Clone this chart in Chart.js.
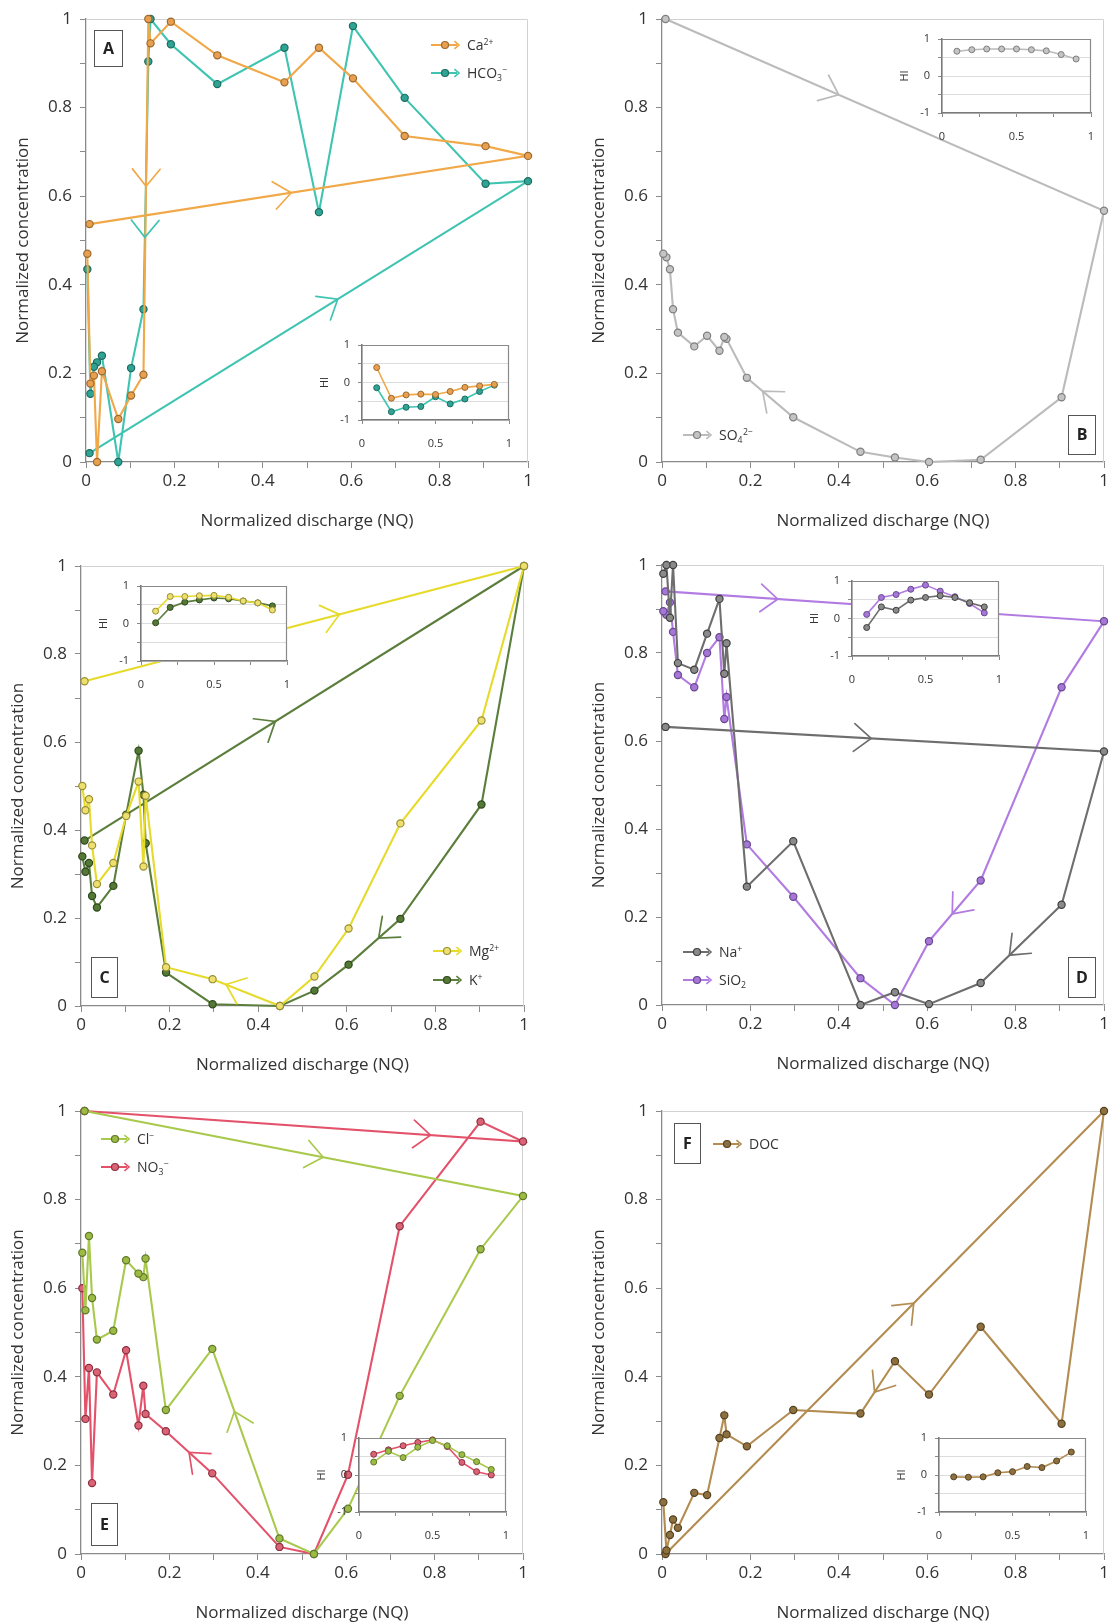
<!DOCTYPE html>
<html><head><meta charset="utf-8">
<script src="https://cdn.jsdelivr.net/npm/chart.js@4.4.1/dist/chart.umd.min.js"></script>
<style>
html,body{margin:0;padding:0;background:#fff;}
body{width:1114px;height:1623px;position:relative;overflow:hidden;}
canvas{position:absolute;}
</style></head>
<body>
<script>
// ---------- DATA ----------
// normalized discharge along the event: start point, peak, then falling limb
const NQ = [0.008, 1.0, 0.904, 0.721, 0.604, 0.527, 0.449, 0.297, 0.192, 0.146, 0.141, 0.13, 0.102, 0.073, 0.036, 0.025, 0.018, 0.01, 0.003];
const CA   = [0.537, 0.691, 0.713, 0.736, 0.866, 0.935, 0.857, 0.918, 0.994, 0.945, 1.0, 0.197, 0.150, 0.097, 0.205, 0.0, 0.195, 0.177, 0.470];
const HCO3 = [0.020, 0.634, 0.628, 0.822, 0.984, 0.564, 0.935, 0.853, 0.943, 1.0, 0.904, 0.345, 0.212, 0.0, 0.240, 0.225, 0.215, 0.154, 0.435];
const SO4  = [1.0, 0.567, 0.146, 0.005, 0.0, 0.010, 0.023, 0.101, 0.190, 0.278, 0.282, 0.251, 0.285, 0.261, 0.292, 0.345, 0.435, 0.462, 0.470];
const MG   = [0.738, 1.0, 0.649, 0.415, 0.176, 0.067, 0.0, 0.061, 0.088, 0.478, 0.317, 0.510, 0.432, 0.325, 0.277, 0.365, 0.470, 0.445, 0.500];
const K    = [0.376, 1.0, 0.458, 0.198, 0.094, 0.035, 0.0, 0.004, 0.076, 0.370, 0.480, 0.580, 0.435, 0.273, 0.224, 0.250, 0.325, 0.305, 0.340];
const NA   = [0.632, 0.576, 0.228, 0.050, 0.002, 0.029, 0.0, 0.372, 0.269, 0.822, 0.753, 0.923, 0.844, 0.762, 0.777, 1.0, 0.880, 1.0, 0.980];
const SIO2 = [0.940, 0.872, 0.722, 0.283, 0.145, 0.0, 0.061, 0.246, 0.365, 0.700, 0.650, 0.836, 0.800, 0.722, 0.750, 0.848, 0.915, 0.887, 0.895];
const CL   = [1.0, 0.808, 0.688, 0.357, 0.102, 0.0, 0.035, 0.463, 0.325, 0.667, 0.625, 0.633, 0.663, 0.504, 0.484, 0.578, 0.718, 0.550, 0.680];
const NO3  = [1.0, 0.931, 0.976, 0.740, 0.179, 0.0, 0.016, 0.182, 0.277, 0.316, 0.380, 0.290, 0.460, 0.360, 0.410, 0.160, 0.420, 0.305, 0.600];
const DOC  = [0.0, 1.0, 0.294, 0.513, 0.360, 0.435, 0.317, 0.325, 0.243, 0.270, 0.313, 0.262, 0.133, 0.138, 0.059, 0.078, 0.043, 0.008, 0.117];

// hysteresis index (inset charts)
const HI_X    = [0.1, 0.2, 0.3, 0.4, 0.5, 0.6, 0.7, 0.8, 0.9];
const CA_HI   = [0.40, -0.42, -0.33, -0.31, -0.32, -0.24, -0.13, -0.09, -0.05];
const HCO3_HI = [-0.14, -0.78, -0.66, -0.64, -0.38, -0.57, -0.44, -0.24, -0.07];
const SO4_HI  = [0.67, 0.71, 0.73, 0.73, 0.73, 0.71, 0.68, 0.58, 0.46];
const MG_HI   = [0.33, 0.72, 0.72, 0.74, 0.75, 0.70, 0.60, 0.55, 0.36];
const K_HI    = [0.02, 0.43, 0.57, 0.63, 0.68, 0.66, 0.60, 0.55, 0.47];
const NA_HI   = [-0.24, 0.31, 0.22, 0.49, 0.56, 0.61, 0.56, 0.42, 0.31];
const SIO2_HI = [0.11, 0.56, 0.64, 0.78, 0.89, 0.73, 0.58, 0.40, 0.15];
const CL_HI   = [0.35, 0.64, 0.47, 0.75, 0.93, 0.79, 0.55, 0.36, 0.15];
const NO3_HI  = [0.56, 0.68, 0.79, 0.88, 0.95, 0.77, 0.34, 0.09, 0.0];
const DOC_HI  = [-0.05, -0.06, -0.05, 0.06, 0.09, 0.23, 0.20, 0.38, 0.62];

const X_TITLE = 'Normalized discharge (NQ)';
const Y_TITLE = 'Normalized concentration';
const HI_TITLE = 'HI';

// ---------- STYLES ----------
const FONT = "'Open Sans', 'DejaVu Sans', sans-serif";
const TXT = '#333333';
const AXIS = '#8a8a8a';
const STY = {
  ca:   {line:'#F0A848', fill:'#E8A050', edge:'#9C6A2E'},
  hco3: {line:'#3FC4B2', fill:'#2FA494', edge:'#1E6B60'},
  so4:  {line:'#BBBBBB', fill:'#C4C4C4', edge:'#7E7E7E'},
  mg:   {line:'#E6DA2A', fill:'#EDE070', edge:'#9A9032'},
  k:    {line:'#5C7E3C', fill:'#557836', edge:'#2E4A1C'},
  na:   {line:'#6E6E6E', fill:'#8A8A8A', edge:'#404040'},
  sio2: {line:'#B27BE2', fill:'#A677D6', edge:'#674890'},
  cl:   {line:'#A9C94C', fill:'#9DBA44', edge:'#5E7A2A'},
  no3:  {line:'#E3526A', fill:'#DA6476', edge:'#8C3040'},
  doc:  {line:'#B38C52', fill:'#8C7040', edge:'#57421F'}
};

// ---------- LAYOUT ----------
const PANELS = [
  { letter:'A', cv:[0,0,557,540], area:[86,19,528,462],
    series:[
      {name:[['Ca',''],['2+','sup']], y:CA, hi:CA_HI, st:'ca', arrows:[[0,0.46],[10,0.47]]},
      {name:[['HCO',''],['3','sub'],['\u2212','sup']], y:HCO3, hi:HCO3_HI, st:'hco3', arrows:[[0,0.566],[10,0.71]]}],
    legend:[431,45,28], box:[94,30,28,36], inset:[362,345,509,420] },
  { letter:'B', cv:[557,0,557,540], area:[105,19,547,462],
    series:[
      {name:[['SO',''],['4','sub'],['2\u2212','sup']], y:SO4, hi:SO4_HI, st:'so4', arrows:[[0,0.395],[7,0.66]]}],
    legend:[683,435,28], box:[1068,415,27,39], inset:[942,39,1091,113] },
  { letter:'C', cv:[0,540,557,540], area:[81,26,524,466],
    series:[
      {name:[['Mg',''],['2+','sup']], y:MG, hi:MG_HI, st:'mg', arrows:[[0,0.58],[6,0.8]]},
      {name:[['K',''],['+','sup']], y:K, hi:K_HI, st:'k', arrows:[[0,0.434],[3,0.42]]}],
    legend:[433,951,29], box:[91,957,26,40], inset:[141,586,287,661] },
  { letter:'D', cv:[557,540,557,540], area:[105,25,547,465],
    series:[
      {name:[['Na',''],['+','sup']], y:NA, hi:NA_HI, st:'na', arrows:[[0,0.469],[2,0.645]]},
      {name:[['SiO',''],['2','sub']], y:SIO2, hi:SIO2_HI, st:'sio2', arrows:[[0,0.256],[3,0.55]]}],
    legend:[683,952,28], box:[1068,957,27,40], inset:[852,581,999,656] },
  { letter:'E', cv:[0,1080,557,543], area:[81,31,523,474],
    series:[
      {name:[['Cl',''],['\u2212','sup']], y:CL, hi:CL_HI, st:'cl', arrows:[[0,0.544],[6,0.67]]},
      {name:[['NO',''],['3','sub'],['\u2212','sup']], y:NO3, hi:NO3_HI, st:'no3', arrows:[[0,0.789],[7,0.5]]}],
    legend:[101,1139,28], box:[91,1503,26,42], inset:[359,1438,506,1512] },
  { letter:'F', cv:[557,1080,557,543], area:[105,31,547,474],
    series:[
      {name:[['DOC','']], y:DOC, hi:DOC_HI, st:'doc', arrows:[[0,0.566],[5,0.59]]}],
    legend:[713,1144,28], box:[674,1123,26,40], inset:[939,1438,1086,1512] }
];

Chart.defaults.font.family = FONT;
Chart.defaults.color = TXT;

function fmt1(v){ return String(Math.round(v*10)/10); }

function drawRich(ctx, parts, x, y, size, color){
  ctx.fillStyle = color; ctx.textBaseline = 'alphabetic'; ctx.textAlign = 'left';
  let cx = x;
  for (const [t,k] of parts){
    const s = k ? size*0.62 : size;
    ctx.font = s + 'px ' + FONT;
    const dy = k === 'sup' ? -size*0.38 : (k === 'sub' ? size*0.22 : 0);
    ctx.fillText(t, cx, y + dy);
    cx += ctx.measureText(t).width + (k ? 0.5 : 0);
  }
}

function chevron(ctx, x, y, ang, len, half){
  ctx.beginPath();
  ctx.moveTo(x - len*Math.cos(ang - half), y - len*Math.sin(ang - half));
  ctx.lineTo(x, y);
  ctx.lineTo(x - len*Math.cos(ang + half), y - len*Math.sin(ang + half));
  ctx.stroke();
}

const framePlugin = {
  id:'frame',
  beforeDraw(chart, args, o){
    if (o.fill){ const a = chart.chartArea; chart.ctx.save(); chart.ctx.fillStyle = o.fill;
      chart.ctx.fillRect(a.left, a.top, a.right-a.left, a.bottom-a.top); chart.ctx.restore(); }
  },
  beforeDatasetsDraw(chart, args, o){
    const a = chart.chartArea, c = chart.ctx;
    c.save(); c.strokeStyle = o.color; c.lineWidth = o.width;
    c.beginPath();
    c.moveTo(a.left, a.top + 0.5); c.lineTo(a.right - 0.5, a.top + 0.5); c.lineTo(a.right - 0.5, a.bottom);
    c.stroke(); c.restore();
  }
};

const annotPlugin = {
  id:'annot',
  afterDatasetsDraw(chart, args, o){
    const p = o.panel; if (!p) return;
    const c = chart.ctx, xs = chart.scales.x, ys = chart.scales.y;
    const ox = p.cv[0], oy = p.cv[1];
    c.save();
    // arrows along the loops
    p.series.forEach(s => {
      const st = STY[s.st];
      c.strokeStyle = st.line; c.lineWidth = 1.7; c.lineCap = 'round';
      s.arrows.forEach(([i, f]) => {
        const x0 = xs.getPixelForValue(NQ[i]), y0 = ys.getPixelForValue(s.y[i]);
        const x1 = xs.getPixelForValue(NQ[i+1]), y1 = ys.getPixelForValue(s.y[i+1]);
        const px = x0 + (x1-x0)*f, py = y0 + (y1-y0)*f;
        chevron(c, px, py, Math.atan2(y1-y0, x1-x0), 22, 0.68);
      });
    });
    // legend
    const [lx, ly, ldy] = p.legend;
    p.series.forEach((s, k) => {
      const st = STY[s.st];
      const x = lx - ox, y = ly - oy + k*ldy;
      c.strokeStyle = st.line; c.lineWidth = 2; c.lineCap = 'butt';
      c.beginPath(); c.moveTo(x, y); c.lineTo(x + 26, y); c.stroke();
      c.lineWidth = 1.6; chevron(c, x + 28, y, 0, 6, 0.7);
      c.beginPath(); c.arc(x + 14, y, 3.5, 0, Math.PI*2);
      c.fillStyle = st.fill; c.fill(); c.lineWidth = 1.2; c.strokeStyle = st.edge; c.stroke();
      drawRich(c, s.name, x + 36, y + 5, 14, TXT);
    });
    // panel letter box
    const [bx, by, bw, bh] = p.box;
    c.fillStyle = '#fff'; c.fillRect(bx-ox, by-oy, bw, bh);
    c.strokeStyle = '#555'; c.lineWidth = 1; c.strokeRect(bx-ox+0.5, by-oy+0.5, bw, bh);
    c.fillStyle = '#222'; c.font = 'bold 16px ' + FONT; c.textAlign = 'center'; c.textBaseline = 'middle';
    c.fillText(p.letter, bx-ox+bw/2+0.5, by-oy+bh/2+1);
    c.restore();
  }
};

function addCanvas(x, y, w, h){
  const cv = document.createElement('canvas');
  cv.width = w; cv.height = h;
  cv.style.left = x + 'px'; cv.style.top = y + 'px';
  cv.style.width = w + 'px'; cv.style.height = h + 'px';
  document.body.appendChild(cv);
  return cv;
}

function makeMain(p){
  const [cx, cy, cw, ch] = p.cv;
  const [al, at, ar, ab] = p.area;
  const YW = 73, XH = 69;
  const cv = addCanvas(cx, cy, cw, ch);
  const tickFont = {size:17, family:FONT};
  new Chart(cv, {
    type:'scatter',
    data:{ datasets: p.series.map(s => ({
      data: NQ.map((x, i) => ({x, y: s.y[i]})),
      showLine:true, tension:0, clip:false,
      borderColor: STY[s.st].line, borderWidth: 2.1,
      pointRadius: 3.6, pointBorderWidth: 1.2,
      pointBackgroundColor: STY[s.st].fill, pointBorderColor: STY[s.st].edge
    }))},
    options:{
      responsive:false, animation:false, devicePixelRatio:1, events:[],
      layout:{ padding:{ left: al - YW, top: at, right: cw - ar, bottom: ch - ab - XH } },
      plugins:{ legend:{display:false}, tooltip:{enabled:false},
        frame:{color:'#d2d2d2', width:1}, annot:{panel:p} },
      scales:{
        x:{ type:'linear', min:0, max:1, offset:false,
          ticks:{ stepSize:0.1, autoSkip:false, maxRotation:0, padding:3, font:tickFont, color:TXT,
            callback:(v, i) => (i % 2 === 0 ? fmt1(v) : '') },
          grid:{ display:true, drawOnChartArea:false, drawTicks:true, tickLength:6, color:AXIS },
          border:{ display:true, color:AXIS, width:1.3 },
          title:{ display:true, text:X_TITLE, font:{size:17, family:FONT}, color:TXT, padding:0 },
          afterFit(s){ s.height = XH; s.paddingLeft = 0; s.paddingRight = 0; } },
        y:{ type:'linear', min:0, max:1,
          ticks:{ stepSize:0.1, autoSkip:false, padding:8, font:tickFont, color:TXT,
            callback:(v, i) => (i % 2 === 0 ? fmt1(v) : '') },
          grid:{ display:true, drawOnChartArea:false, drawTicks:true, tickLength:6, color:AXIS },
          border:{ display:true, color:AXIS, width:1.3 },
          title:{ display:true, text:Y_TITLE, font:{size:17, family:FONT}, color:TXT, padding:0 },
          afterFit(s){ s.width = YW; s.paddingTop = 0; s.paddingBottom = 0; } }
      }
    },
    plugins:[framePlugin, annotPlugin]
  });
}

function makeInset(p){
  const [il, it, ir, ib] = p.inset;
  const L = 46, T = 8, R = 12, B = 36, YW = 44, XH = 30;
  const w = ir - il + L + R, h = ib - it + T + B;
  const cv = addCanvas(il - L, it - T, w, h);
  const f = {size:11, family:FONT};
  new Chart(cv, {
    type:'scatter',
    data:{ datasets: p.series.map(s => ({
      data: HI_X.map((x, i) => ({x, y: s.hi[i]})),
      showLine:true, tension:0, clip:false,
      borderColor: STY[s.st].line, borderWidth: 1.6,
      pointRadius: 3, pointBorderWidth: 1,
      pointBackgroundColor: STY[s.st].fill, pointBorderColor: STY[s.st].edge
    }))},
    options:{
      responsive:false, animation:false, devicePixelRatio:1, events:[],
      layout:{ padding:{ left: L - YW, top: T, right: R, bottom: B - XH } },
      plugins:{ legend:{display:false}, tooltip:{enabled:false},
        frame:{color:'#8a8a8a', width:1.2, fill:'#ffffff'} },
      scales:{
        x:{ type:'linear', min:0, max:1,
          ticks:{ stepSize:0.25, autoSkip:false, maxRotation:0, padding:13, font:f, color:TXT,
            callback:(v) => (Math.abs(v*2 - Math.round(v*2)) < 1e-9 ? String(Math.round(v*10)/10) : '') },
          grid:{ display:true, drawOnChartArea:false, drawTicks:true, tickLength:4, color:AXIS },
          border:{ display:true, color:'#7a7a7a', width:1.6 },
          afterFit(s){ s.height = XH; s.paddingLeft = 0; s.paddingRight = 0; } },
        y:{ type:'linear', min:-1, max:1,
          ticks:{ stepSize:0.5, autoSkip:false, padding:8, font:f, color:TXT,
            callback:(v) => (Math.abs(v - Math.round(v)) < 1e-9 ? String(Math.round(v)) : '') },
          grid:{ display:true, drawOnChartArea:true, drawTicks:true, tickLength:4, color:'#dcdcdc', tickColor:AXIS },
          border:{ display:true, color:'#7a7a7a', width:1.6 },
          title:{ display:true, text:HI_TITLE, font:{size:11, family:FONT}, color:TXT, padding:0 },
          afterFit(s){ s.width = YW; s.paddingTop = 0; s.paddingBottom = 0; } }
      }
    },
    plugins:[framePlugin]
  });
}

PANELS.forEach(p => { makeMain(p); });
PANELS.forEach(p => { makeInset(p); });
</script>
</body></html>
